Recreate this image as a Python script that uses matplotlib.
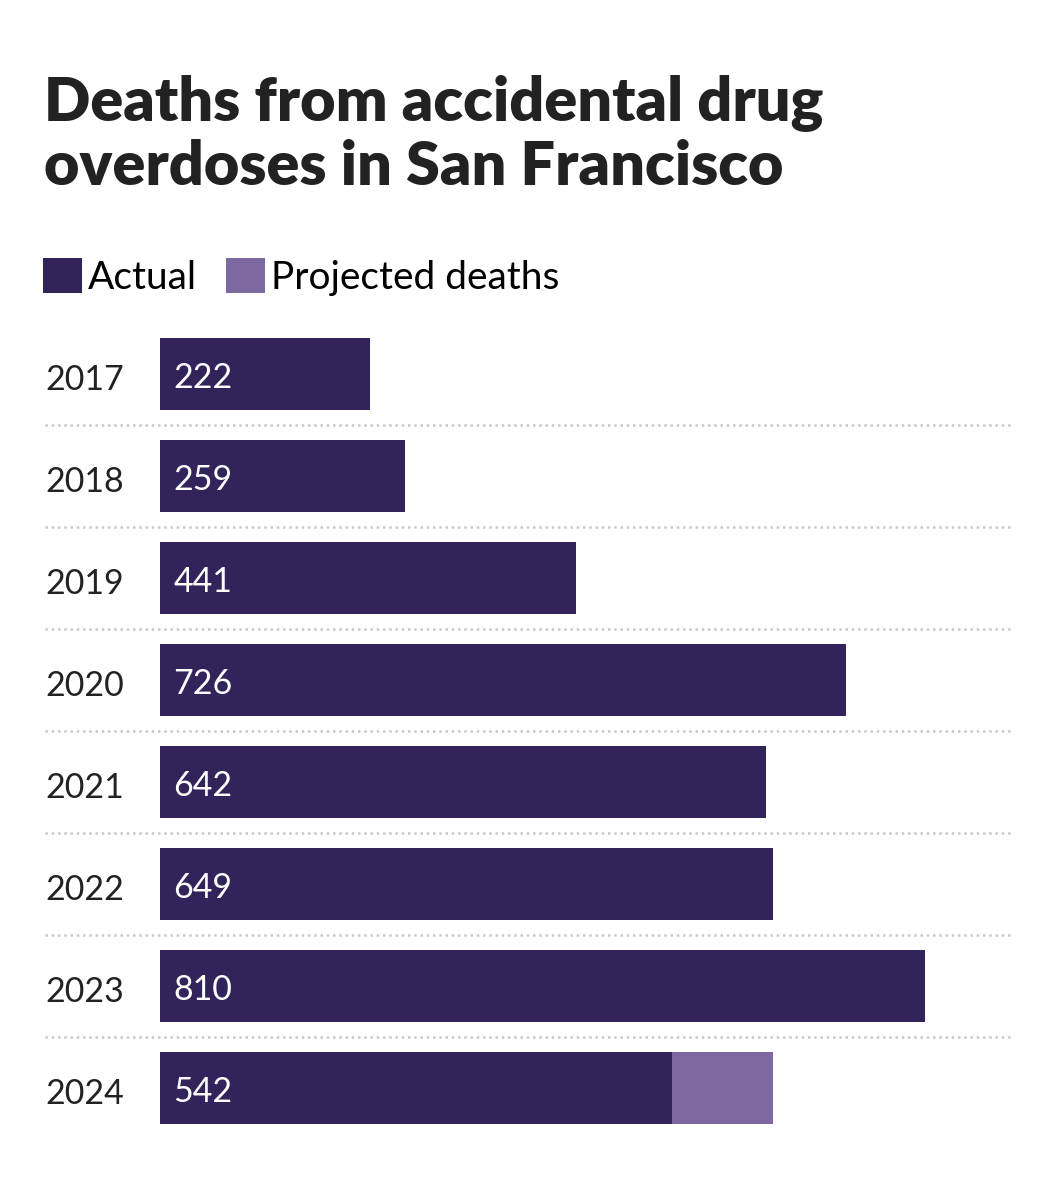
import matplotlib
matplotlib.use("Agg")
import matplotlib.pyplot as plt
from matplotlib.patches import Patch
import matplotlib.transforms as mtrans

years = ["2017", "2018", "2019", "2020", "2021", "2022", "2023", "2024"]
actual = [222, 259, 441, 726, 642, 649, 810, 542]
projected_extra = [0, 0, 0, 0, 0, 0, 0, 107]

c_actual = "#32235a"
c_proj = "#7d69a1"
FONT = "Lato"

fig = plt.figure(figsize=(10.56, 12), dpi=100)
W, H = 1056, 1200
left, right = 160 / W, 1010 / W
top, bottom = 1 - 323 / H, 1 - 1139 / H
ax = fig.add_axes([left, bottom, right - left, top - bottom])

ypos = list(range(len(years)))
ax.barh(ypos, actual, height=0.706, color=c_actual)
ax.barh(ypos, projected_extra, left=actual, height=0.706, color=c_proj)

ax.set_xlim(0, 850 / 0.9444)
ax.set_ylim(len(years) - 0.5, -0.5)
ax.axis("off")

trans = mtrans.blended_transform_factory(ax.transAxes, ax.transData)
for i, (y, v) in enumerate(zip(years, actual)):
    ax.text(14, i + 0.04, str(v), color="white", fontsize=24.5, family=FONT,
            va="center", ha="left")
    ax.text(-115 / 850, i + 0.06, y, transform=trans,
            color="#222222", fontsize=24.5, family=FONT, va="center", ha="left")

for i in range(len(years) - 1):
    ax.plot([-115 / 850, 1], [i + 0.5, i + 0.5], transform=trans, clip_on=False,
            color="#c8c8c8", lw=1.8, ls=(0, (1, 1.5)))

fig.text(44 / W, 1 - 74 / H, "Deaths from accidental drug\noverdoses in San Francisco",
         fontsize=44, fontweight="heavy", family=FONT, color="#222222",
         va="top", ha="left", linespacing=1.17)

handles = [Patch(facecolor=c_actual, label="Actual"),
           Patch(facecolor=c_proj, label="Projected deaths")]
fig.legend(handles=handles, loc="upper left", bbox_to_anchor=(43 / W, 1 - 258 / H),
           ncol=2, frameon=False, handlelength=1.0, handleheight=1.0,
           handletextpad=0.15, columnspacing=0.75, borderpad=0, borderaxespad=0,
           prop={"family": FONT, "size": 28})

fig.savefig("out.png", dpi=100, facecolor="white")
